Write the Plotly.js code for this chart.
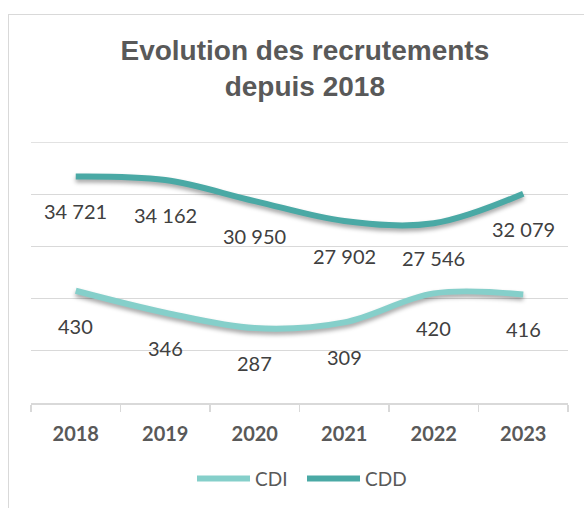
<!DOCTYPE html>
<html>
<head>
<meta charset="utf-8">
<script src="https://cdn.plot.ly/plotly-3.0.1.min.js"></script>
<style>
  html, body { margin: 0; padding: 0; background: #ffffff; }
  #wrap { position: relative; width: 584px; height: 508px; overflow: hidden; }
  #frame { position: absolute; left: 8px; top: 14px; width: 700px; height: 700px;
           border: 1.5px solid #D9D9D9; box-sizing: border-box; }
  #chart { position: absolute; left: 0; top: 0; width: 584px; height: 508px; }
  #chart .scatterlayer .trace .js-line { filter: drop-shadow(0px 3px 2px rgba(0,0,0,0.35)); }
</style>
</head>
<body>
<div id="wrap">
  <div id="frame"></div>
  <div id="chart"></div>
</div>
<script>
const years = ['2018', '2019', '2020', '2021', '2022', '2023'];
const cdi = [430, 346, 287, 309, 420, 416];
const cdd = [34721, 34162, 30950, 27902, 27546, 32079];
const seriesNames = ['CDI', 'CDD'];
const titleText = 'Evolution des recrutements<br>depuis 2018';
const cdiAxisMax = 1000;
const cddAxisMax = 40000;
const gridStep = 200;

const colCDI = '#85CFCA';
const colCDD = '#4AA9A5';
const gridColor = '#D9D9D9';

function fmt(v) {
  return String(v).replace(/\B(?=(\d{3})+(?!\d))/g, '\u00a0');
}

const traces = [
  { x: years, y: cdi, name: seriesNames[0], type: 'scatter', mode: 'lines',
    line: { color: colCDI, width: 6, shape: 'spline', smoothing: 1 }, yaxis: 'y',
    hoverinfo: 'skip' },
  { x: years, y: cdd, name: seriesNames[1], type: 'scatter', mode: 'lines',
    line: { color: colCDD, width: 6, shape: 'spline', smoothing: 1 }, yaxis: 'y2',
    hoverinfo: 'skip' }
];

const labelFont = { family: 'Lato, sans-serif', size: 20, color: '#404040' };
const annotations = [];
years.forEach((yr, i) => {
  annotations.push({ x: i, y: cdi[i], xref: 'x', yref: 'y', text: fmt(cdi[i]),
    showarrow: false, yshift: -35, font: labelFont });
  annotations.push({ x: i, y: cdd[i], xref: 'x', yref: 'y2', text: fmt(cdd[i]),
    showarrow: false, yshift: -35, font: labelFont });
});

const layout = {
  width: 584, height: 508,
  margin: { l: 31, r: 16, t: 142, b: 104 },
  paper_bgcolor: 'rgba(0,0,0,0)', plot_bgcolor: 'rgba(0,0,0,0)',
  title: { text: titleText, xref: 'container', yref: 'container', x: 0.522, xanchor: 'center',
           y: 0.882, yanchor: 'top',
           font: { family: 'Liberation Sans, Arial, sans-serif', size: 28, weight: 'bold', color: '#595959' } },
  xaxis: { type: 'category', range: [-0.5, 5.5], showline: true, linecolor: gridColor, linewidth: 1.5,
           ticks: 'outside', tickson: 'boundaries', ticklen: 7, tickcolor: gridColor, tickwidth: 1.5,
           showgrid: false, ticklabelstandoff: 12,
           tickfont: { family: 'Lato, sans-serif', size: 20, weight: 'bold', color: '#595959' } },
  yaxis: { range: [0, cdiAxisMax], dtick: gridStep, showgrid: true, gridcolor: gridColor, gridwidth: 1.3,
           showticklabels: false, zeroline: false, ticks: '' },
  yaxis2: { range: [0, cddAxisMax], overlaying: 'y', side: 'right', showgrid: false, showticklabels: false,
            zeroline: false, showline: false, ticks: '' },
  shapes: [
    { type: 'line', xref: 'paper', x0: 0, x1: 1, yref: 'y', y0: cdiAxisMax, y1: cdiAxisMax,
      line: { color: gridColor, width: 1.3 }, layer: 'below' }
  ],
  showlegend: true,
  legend: { orientation: 'h', x: 0.5, xanchor: 'center', y: -0.285, yanchor: 'middle',
            font: { family: 'Lato, sans-serif', size: 19, color: '#595959' },
            bgcolor: 'rgba(0,0,0,0)' },
  annotations: annotations
};

const targetLeft = [197, 307];

function tweakLegend(gd) {
  const sb = gd.querySelectorAll('.legend .scrollbox, .legend [clip-path]');
  sb.forEach(function (el) { el.removeAttribute('clip-path'); });
  const items = gd.querySelectorAll('.legend .traces');
  items.forEach(function (g, i) {
    const p = g.querySelector('.legendlines path');
    if (!p) return;
    p.setAttribute('d', 'M-18,0h53');
    const r = p.getBoundingClientRect();
    const tr = g.getAttribute('transform') || 'translate(0,0)';
    const m = /translate\(\s*([-\d.e]+)[ ,]+([-\d.e]+)\s*\)/.exec(tr);
    const tx = m ? parseFloat(m[1]) : 0;
    const ty = m ? parseFloat(m[2]) : 0;
    const dx = targetLeft[i] - r.left;
    g.setAttribute('transform', 'translate(' + (tx + dx) + ',' + ty + ')');
  });
}

Plotly.newPlot('chart', traces, layout, { displayModeBar: false, staticPlot: true }).then(tweakLegend);
</script>
</body>
</html>
